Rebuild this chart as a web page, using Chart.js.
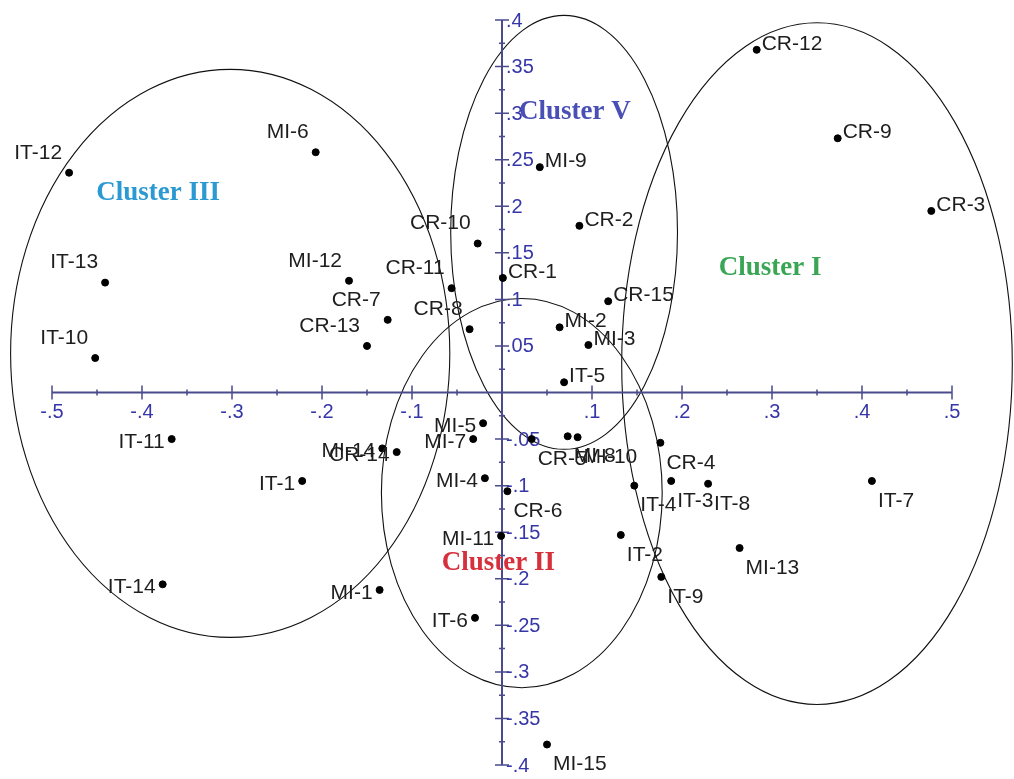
<!DOCTYPE html>
<html>
<head>
<meta charset="utf-8">
<script src="https://cdn.jsdelivr.net/npm/chart.js@4.4.1/dist/chart.umd.min.js"></script>
<style>
  body{margin:0;background:#fff}
  #wrap{width:1014px;height:779px}
</style>
</head>
<body>
<div id="wrap"><canvas id="chart" width="1014" height="779"></canvas></div>
<script>
// points
const pointNames = ['IT-12','MI-6','CR-12','CR-9','CR-3','MI-9','CR-2','CR-10','IT-13','MI-12',
  'CR-11','CR-1','CR-7','CR-8','CR-13','IT-10','CR-15','MI-2','MI-3','IT-5',
  'IT-11','MI-14','CR-14','MI-5','MI-7','CR-5','MI-8','MI-10','MI-4','CR-6',
  'CR-4','IT-4','IT-3','IT-8','IT-7','IT-2','MI-13','IT-9','IT-1','IT-14',
  'MI-1','IT-6','MI-11','MI-15'];
const xValues = [-0.481,-0.207,0.283,0.373,0.477,0.042,0.086,-0.027,-0.441,-0.170,
  -0.056,0.001,-0.127,-0.036,-0.150,-0.452,0.118,0.064,0.096,0.069,
  -0.367,-0.133,-0.117,-0.021,-0.032,0.033,0.073,0.084,-0.019,0.006,
  0.176,0.147,0.188,0.229,0.411,0.132,0.264,0.177,-0.222,-0.377,
  -0.136,-0.030,-0.001,0.050];
const yValues = [0.236,0.258,0.368,0.273,0.195,0.242,0.179,0.160,0.118,0.120,
  0.112,0.123,0.078,0.068,0.050,0.037,0.098,0.070,0.051,0.011,
  -0.050,-0.060,-0.064,-0.033,-0.050,-0.050,-0.047,-0.048,-0.092,-0.106,
  -0.054,-0.100,-0.095,-0.098,-0.095,-0.153,-0.167,-0.198,-0.095,-0.206,
  -0.212,-0.242,-0.154,-0.378];
// where each name sits relative to its dot: ul = up-left, l = left, r = right, br = below-right
const labelSide = ['ul','ul','r','r','r','r','r','ul','ul','ul',
  'ul','r','ul','ul','ul','ul','r','r','r','r',
  'l','l','l','l','l','br','br','br','l','br',
  'br','br','br','br','br','br','br','br','l','l',
  'l','l','l','br'];

const xTicks = [-0.5,-0.4,-0.3,-0.2,-0.1,0.1,0.2,0.3,0.4,0.5];
const xTickLabels = ['-.5','-.4','-.3','-.2','-.1','.1','.2','.3','.4','.5'];
const xMinorTicks = [-0.45,-0.35,-0.25,-0.15,-0.05,0.05,0.15,0.25,0.35,0.45];
const yTicks = [0.4,0.35,0.3,0.25,0.2,0.15,0.1,0.05,-0.05,-0.1,-0.15,-0.2,-0.25,-0.3,-0.35,-0.4];
const yTickLabels = ['.4','.35','.3','.25','.2','.15','.1','.05','-.05','-.1','-.15','-.2','-.25','-.3','-.35','-.4'];
const yMinorTicks = [0.375,0.325,0.275,0.225,0.175,0.125,0.075,0.025,-0.025,-0.075,-0.125,-0.175,-0.225,-0.275,-0.325,-0.375];

// cluster ellipses (data units)
const clusterNames = ['Cluster I','Cluster II','Cluster III','Cluster V'];
const clusterCx = [0.350,0.022,-0.302,0.069];
const clusterCy = [0.031,-0.108,0.042,0.172];
const clusterRx = [0.217,0.156,0.244,0.126];
const clusterRy = [0.366,0.209,0.305,0.233];
const clusterTextX = [0.298,-0.004,-0.382,0.081];
const clusterTextY = [0.134,-0.183,0.214,0.301];
const clusterColors = ['#3aa655','#d6303c','#2b9ad2','#4a4fb5'];

const points = pointNames.map((n,i)=>({x:xValues[i], y:yValues[i]}));

const overlay = {
  id:'overlay',
  beforeDatasetsDraw(chart){
    const ctx = chart.ctx, xs = chart.scales.x, ys = chart.scales.y;
    ctx.save();
    // ellipses
    ctx.strokeStyle = '#111';
    ctx.lineWidth = 1.1;
    clusterNames.forEach((n,i)=>{
      const cx = xs.getPixelForValue(clusterCx[i]), cy = ys.getPixelForValue(clusterCy[i]);
      const rx = Math.abs(xs.getPixelForValue(clusterCx[i]+clusterRx[i]) - cx);
      const ry = Math.abs(ys.getPixelForValue(clusterCy[i]+clusterRy[i]) - cy);
      ctx.beginPath(); ctx.ellipse(cx,cy,rx,ry,0,0,Math.PI*2); ctx.stroke();
    });
    // axes through the origin
    const x0 = xs.getPixelForValue(0), y0 = ys.getPixelForValue(0);
    ctx.strokeStyle = '#4a4a8c';
    ctx.lineWidth = 2;
    ctx.beginPath();
    ctx.moveTo(xs.getPixelForValue(-0.5), y0); ctx.lineTo(xs.getPixelForValue(0.5), y0);
    ctx.moveTo(x0, ys.getPixelForValue(0.4)); ctx.lineTo(x0, ys.getPixelForValue(-0.4));
    ctx.stroke();
    ctx.lineWidth = 1.5;
    ctx.beginPath();
    xTicks.forEach(v=>{ const p = xs.getPixelForValue(v); ctx.moveTo(p,y0-7); ctx.lineTo(p,y0+7); });
    xMinorTicks.forEach(v=>{ const p = xs.getPixelForValue(v); ctx.moveTo(p,y0-3); ctx.lineTo(p,y0+3); });
    yTicks.forEach(v=>{ const p = ys.getPixelForValue(v); ctx.moveTo(x0-7,p); ctx.lineTo(x0+7,p); });
    yMinorTicks.forEach(v=>{ const p = ys.getPixelForValue(v); ctx.moveTo(x0-3,p); ctx.lineTo(x0+3,p); });
    ctx.stroke();
    // tick labels
    ctx.fillStyle = '#3636a8';
    ctx.font = '20px "Liberation Sans", Arial, sans-serif';
    ctx.textAlign = 'center'; ctx.textBaseline = 'middle';
    xTicks.forEach((v,i)=>ctx.fillText(xTickLabels[i], xs.getPixelForValue(v), y0+20));
    ctx.textAlign = 'left';
    yTicks.forEach((v,i)=>ctx.fillText(yTickLabels[i], x0+4, ys.getPixelForValue(v)+1));
    ctx.restore();
  },
  afterDatasetsDraw(chart){
    const ctx = chart.ctx, xs = chart.scales.x, ys = chart.scales.y;
    const meta = chart.getDatasetMeta(0);
    ctx.save();
    ctx.fillStyle = '#1e1e1e';
    ctx.font = '21px "Liberation Sans", Arial, sans-serif';
    ctx.textBaseline = 'middle';
    meta.data.forEach((el,i)=>{
      const s = labelSide[i];
      let x = el.x, y = el.y;
      if(s==='ul'){ ctx.textAlign='right'; x -= 7; y -= 20; }
      else if(s==='l'){ ctx.textAlign='right'; x -= 7; y += 3; }
      else if(s==='r'){ ctx.textAlign='left'; x += 5; y -= 6; }
      else { ctx.textAlign='left'; x += 6; y += 20; }
      ctx.fillText(pointNames[i], x, y);
    });
    ctx.font = 'bold 27px "Liberation Serif", "Times New Roman", serif';
    ctx.textAlign = 'center';
    clusterNames.forEach((n,i)=>{
      ctx.fillStyle = clusterColors[i];
      ctx.fillText(n, xs.getPixelForValue(clusterTextX[i]), ys.getPixelForValue(clusterTextY[i]));
    });
    ctx.restore();
  }
};

new Chart(document.getElementById('chart'), {
  type:'scatter',
  data:{ datasets:[{ data:points, backgroundColor:'#000', borderColor:'#000',
    pointRadius:3.5, pointHoverRadius:3.5, clip:false }] },
  options:{
    responsive:false,
    animation:false,
    layout:{ padding:{ left:52, right:62, top:20, bottom:14 } },
    scales:{
      x:{ type:'linear', min:-0.5, max:0.5, display:false },
      y:{ type:'linear', min:-0.4, max:0.4, display:false }
    },
    plugins:{ legend:{display:false}, tooltip:{enabled:false} }
  },
  plugins:[overlay]
});
</script>
</body>
</html>
